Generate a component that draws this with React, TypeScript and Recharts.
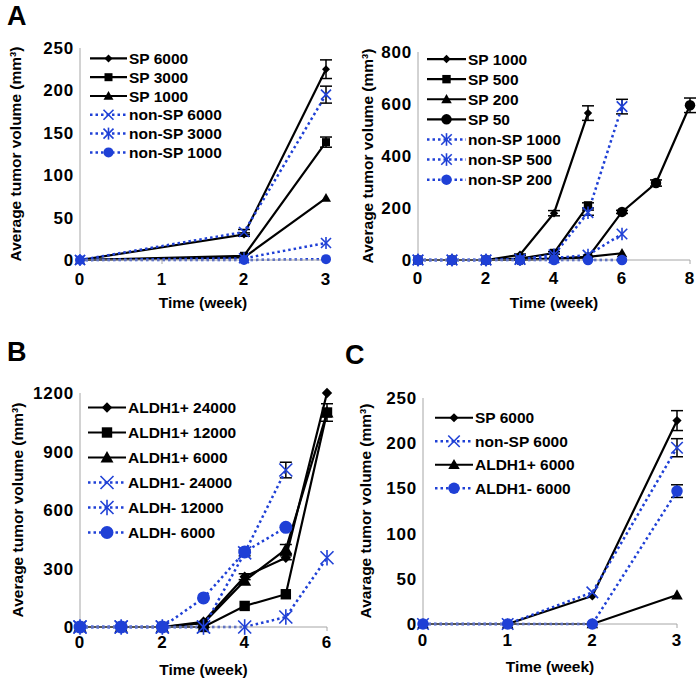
import React from 'react';
import { LineChart, Line, XAxis, YAxis, ErrorBar, Legend, Label } from 'recharts';

const BLACK = '#000000';
const BLUE = '#1f40d6';
const AXIS = '#a6a6a6';
const FONT = '"Liberation Sans", Arial, sans-serif';

// ---- Panel A, left (weeks 0, 2, 3)
const aLeftWeeks = [0, 2, 3];
const aLeftSp6000 = [0, 30, 225];
const aLeftSp6000Err = [null, 2, 11];
const aLeftSp3000 = [0, 5, 139];
const aLeftSp3000Err = [null, null, 6];
const aLeftSp1000 = [0, 3, 73];
const aLeftNonSp6000 = [0, 33, 195];
const aLeftNonSp6000Err = [null, 3, 10];
const aLeftNonSp3000 = [0, 2, 20];
const aLeftNonSp1000 = [0, 0, 1];

// ---- Panel A, right (weeks 0..8)
const aRightWeeks = [0, 1, 2, 3, 4, 5, 6, 7, 8];
const aRightSp1000 = [0, 0, 0, 20, 180, 565];
const aRightSp1000Err = [null, null, null, 3, 10, 28];
const aRightSp500 = [0, 0, 0, 5, 27, 210];
const aRightSp500Err = [null, null, null, null, 5, 10];
const aRightSp200 = [0, 0, 0, 2, 5, 12, 26];
const aRightSp50 = [0, 0, 0, 0, 5, 10, 185, 296, 595];
const aRightSp50Err = [null, null, null, null, null, null, 6, 12, 28];
const aRightNonSp1000 = [0, 0, 0, 3, 20, 182, 590];
const aRightNonSp1000Err = [null, null, null, null, null, 10, 28];
const aRightNonSp500 = [0, 0, 0, 2, 8, 19, 100];
const aRightNonSp200 = [0, 0, 0, 0, 0, 0, 0];

// ---- Panel B (weeks 0..6)
const bWeeks = [0, 1, 2, 3, 4, 5, 6];
const bAldhP24000 = [0, 0, 0, 27, 258, 355, 1200];
const bAldhP24000Err = [null, null, null, null, 15, 10, null];
const bAldhP12000 = [0, 0, 0, 0, 108, 168, 1100];
const bAldhP12000Err = [null, null, null, null, null, null, 45];
const bAldhP6000 = [0, 0, 0, 20, 237, 398, 1100];
const bAldhP6000Err = [null, null, null, null, null, 25, null];
const bAldhN24000 = [0, 0, 0, 0, 380, 805];
const bAldhN24000Err = [null, null, null, null, 15, 40];
const bAldhN12000 = [0, 0, 0, 0, 0, 51, 355];
const bAldhN6000 = [0, 0, 0, 149, 385, 511];

// ---- Panel C (weeks 0..3)
const cWeeks = [0, 1, 2, 3];
const cSp6000 = [0, 0, 31, 225];
const cSp6000Err = [null, null, null, 11];
const cNonSp6000 = [0, 0, 35, 195];
const cNonSp6000Err = [null, null, null, 10];
const cAldhP6000 = [0, 0, 0, 32];
const cAldhN6000 = [0, 0, 0, 147];
const cAldhN6000Err = [null, null, null, 7];

type Shape = 'diamond' | 'square' | 'triangle' | 'circle' | 'x' | 'star';

interface Series {
  key: string;
  name: string;
  values: number[];
  err?: (number | null)[];
  color: string;
  dotted: boolean;
  shape: Shape;
}

const black = (key: string, name: string, values: number[], shape: Shape, err?: (number | null)[]): Series =>
  ({ key, name, values, err, shape, color: BLACK, dotted: false });
const blue = (key: string, name: string, values: number[], shape: Shape, err?: (number | null)[]): Series =>
  ({ key, name, values, err, shape, color: BLUE, dotted: true });

function Marker({ shape, cx, cy, color, scale }: { shape: Shape; cx: number; cy: number; color: string; scale: number }) {
  switch (shape) {
    case 'diamond': {
      const s = 4 * scale;
      return <polygon points={`${cx},${cy - s} ${cx + s},${cy} ${cx},${cy + s} ${cx - s},${cy}`} fill={color} />;
    }
    case 'square': {
      const s = 4 * scale;
      return <rect x={cx - s} y={cy - s} width={2 * s} height={2 * s} fill={color} />;
    }
    case 'triangle': {
      const s = 5 * scale;
      return <polygon points={`${cx},${cy - s} ${cx + s},${cy + s * 0.75} ${cx - s},${cy + s * 0.75}`} fill={color} />;
    }
    case 'circle':
      return <circle cx={cx} cy={cy} r={5 * scale} fill={color} />;
    case 'x': {
      const s = 5 * scale;
      return (
        <g stroke={color} strokeWidth={1.6}>
          <line x1={cx - s} y1={cy - s} x2={cx + s} y2={cy + s} />
          <line x1={cx - s} y1={cy + s} x2={cx + s} y2={cy - s} />
        </g>
      );
    }
    case 'star': {
      const s = 5 * scale;
      return (
        <g stroke={color} strokeWidth={1.6}>
          <line x1={cx - s} y1={cy - s} x2={cx + s} y2={cy + s} />
          <line x1={cx - s} y1={cy + s} x2={cx + s} y2={cy - s} />
          <line x1={cx} y1={cy - s * 1.2} x2={cx} y2={cy + s * 1.2} />
        </g>
      );
    }
  }
  return null;
}

interface PanelProps {
  left: number;
  top: number;
  width: number;
  height: number;
  weeks: number[];
  xTicks: number[];
  yTicks: number[];
  series: Series[];
  plotLeft: number;
  plotRight: number;
  plotTop: number;
  plotBottom: number;
  yLabel: string;
  yLabelX: number;
  xTickMargin: number;
  markerScale: number;
  legend: { x0: number; x1: number; textX: number; y0: number; rowH: number };
}

const tickStyle = { fill: '#000', fontSize: 17, fontWeight: 700, fontFamily: FONT, letterSpacing: 0.8 };

function Panel(p: PanelProps) {
  const data = p.weeks.map((w, i) => {
    const row: Record<string, number | null> = { week: w };
    p.series.forEach((s) => {
      if (i < s.values.length) row[s.key] = s.values[i];
      if (s.err && s.err[i] != null) row[s.key + 'Err'] = s.err[i] as number;
    });
    return row;
  });

  const xAxisH = 48;
  const margin = {
    top: p.plotTop,
    right: p.width - p.plotRight,
    left: 0,
    bottom: p.height - p.plotBottom - xAxisH,
  };
  const yMax = p.yTicks[p.yTicks.length - 1];
  const xMax = p.xTicks[p.xTicks.length - 1];
  const lg = p.legend;

  const renderLegend = () => (
    <svg width={240} height={p.series.length * lg.rowH + 4} style={{ display: 'block', overflow: 'visible' }}>
      {p.series.map((s, i) => {
        const y = lg.rowH / 2 + i * lg.rowH;
        const x0 = 0;
        const x1 = lg.x1 - lg.x0;
        return (
          <g key={s.key}>
            <line
              x1={x0}
              y1={y}
              x2={x1}
              y2={y}
              stroke={s.color}
              strokeWidth={s.dotted ? 2.5 : 2.2}
              strokeDasharray={s.dotted ? '2.5 3' : undefined}
            />
            <Marker shape={s.shape} cx={(x0 + x1) / 2} cy={y} color={s.color} scale={p.markerScale} />
            <text
              x={lg.textX - lg.x0}
              y={y}
              dominantBaseline="central"
              fontSize={15.5}
              fontWeight={700}
              fontFamily={FONT}
              fill="#000"
            >
              {s.name}
            </text>
          </g>
        );
      })}
    </svg>
  );

  return (
    <div style={{ position: 'absolute', left: p.left, top: p.top, width: p.width, height: p.height }}>
      <LineChart width={p.width} height={p.height} data={data} margin={margin}>
        <XAxis
          type="number"
          dataKey="week"
          domain={[0, xMax]}
          ticks={p.xTicks}
          interval={0}
          height={xAxisH}
          stroke={AXIS}
          tickSize={4}
          tickMargin={p.xTickMargin}
          tick={tickStyle}
        >
          <Label
            value="Time (week)"
            position="insideBottom"
            offset={0}
            style={{ fontSize: 15.5, fontWeight: 700, fill: '#000', fontFamily: FONT }}
          />
        </XAxis>
        <YAxis
          type="number"
          domain={[0, yMax]}
          ticks={p.yTicks}
          interval={0}
          width={p.plotLeft}
          stroke={AXIS}
          tickLine={false}
          tickSize={0}
          tickMargin={6}
          tick={tickStyle}
        >
          <Label
            value={p.yLabel}
            angle={-90}
            position="insideLeft"
            offset={p.yLabelX}
            style={{ textAnchor: 'middle', fontSize: 15.5, fontWeight: 700, fill: '#000', fontFamily: FONT }}
          />
        </YAxis>
        <Legend
          layout="vertical"
          align="center"
          verticalAlign="middle"
          content={renderLegend}
          wrapperStyle={{ left: lg.x0, top: lg.y0 - lg.rowH / 2, width: 240, height: p.series.length * lg.rowH }}
        />
        {p.series.map((s) => (
          <Line
            key={s.key}
            dataKey={s.key}
            name={s.name}
            type="linear"
            stroke={s.color}
            strokeWidth={s.dotted ? 2.5 : 2.2}
            strokeDasharray={s.dotted ? '2.5 3' : undefined}
            isAnimationActive={false}
            legendType="none"
            dot={(d: any) => {
              const k = `${s.key}-${d.index}`;
              if (d.cx == null || d.cy == null || d.value == null) return <g key={k} />;
              return (
                <g key={k}>
                  <Marker shape={s.shape} cx={d.cx} cy={d.cy} color={s.color} scale={p.markerScale} />
                </g>
              );
            }}
            activeDot={false}
          >
            {s.err ? (
              <ErrorBar dataKey={s.key + 'Err'} width={6} stroke="#000" strokeWidth={1.5} direction="y" />
            ) : null}
          </Line>
        ))}
      </LineChart>
    </div>
  );
}

const aLeftSeries: Series[] = [
  black('sp6000', 'SP 6000', aLeftSp6000, 'diamond', aLeftSp6000Err),
  black('sp3000', 'SP 3000', aLeftSp3000, 'square', aLeftSp3000Err),
  black('sp1000', 'SP 1000', aLeftSp1000, 'triangle'),
  blue('nsp6000', 'non-SP 6000', aLeftNonSp6000, 'x', aLeftNonSp6000Err),
  blue('nsp3000', 'non-SP 3000', aLeftNonSp3000, 'star'),
  blue('nsp1000', 'non-SP 1000', aLeftNonSp1000, 'circle'),
];

const aRightSeries: Series[] = [
  black('sp1000', 'SP 1000', aRightSp1000, 'diamond', aRightSp1000Err),
  black('sp500', 'SP 500', aRightSp500, 'square', aRightSp500Err),
  black('sp200', 'SP 200', aRightSp200, 'triangle'),
  black('sp50', 'SP 50', aRightSp50, 'circle', aRightSp50Err),
  blue('nsp1000', 'non-SP 1000', aRightNonSp1000, 'star', aRightNonSp1000Err),
  blue('nsp500', 'non-SP 500', aRightNonSp500, 'star'),
  blue('nsp200', 'non-SP 200', aRightNonSp200, 'circle'),
];

const bSeries: Series[] = [
  black('p24000', 'ALDH1+ 24000', bAldhP24000, 'diamond', bAldhP24000Err),
  black('p12000', 'ALDH1+ 12000', bAldhP12000, 'square', bAldhP12000Err),
  black('p6000', 'ALDH1+ 6000', bAldhP6000, 'triangle', bAldhP6000Err),
  blue('n24000', 'ALDH1- 24000', bAldhN24000, 'x', bAldhN24000Err),
  blue('n12000', 'ALDH- 12000', bAldhN12000, 'star'),
  blue('n6000', 'ALDH- 6000', bAldhN6000, 'circle'),
];

const cSeries: Series[] = [
  black('sp6000', 'SP 6000', cSp6000, 'diamond', cSp6000Err),
  blue('nsp6000', 'non-SP 6000', cNonSp6000, 'x', cNonSp6000Err),
  black('ap6000', 'ALDH1+ 6000', cAldhP6000, 'triangle'),
  blue('an6000', 'ALDH1- 6000', cAldhN6000, 'circle', cAldhN6000Err),
];

const letterStyle: React.CSSProperties = {
  position: 'absolute',
  fontFamily: FONT,
  fontWeight: 700,
  fontSize: 27,
  lineHeight: '27px',
  color: '#000',
};

export default function App() {
  return (
    <div
      style={{
        position: 'absolute',
        left: 0,
        top: 0,
        width: 699,
        height: 683,
        background: '#fff',
        fontFamily: FONT,
        overflow: 'hidden',
      }}
    >
      <Panel
        left={0}
        top={0}
        width={350}
        height={320}
        weeks={aLeftWeeks}
        xTicks={[0, 1, 2, 3]}
        yTicks={[0, 50, 100, 150, 200, 250]}
        series={aLeftSeries}
        plotLeft={80}
        plotRight={326}
        plotTop={48}
        plotBottom={260}
        yLabel="Average tumor volume (mm³)"
        yLabelX={15}
        xTickMargin={9}
        markerScale={1}
        legend={{ x0: 90, x1: 127, textX: 129, y0: 58, rowH: 18.8 }}
      />
      <Panel
        left={350}
        top={0}
        width={349}
        height={320}
        weeks={aRightWeeks}
        xTicks={[0, 2, 4, 6, 8]}
        yTicks={[0, 200, 400, 600, 800]}
        series={aRightSeries}
        plotLeft={68}
        plotRight={340}
        plotTop={52}
        plotBottom={260}
        yLabel="Average tumor volume (mm³)"
        yLabelX={17}
        xTickMargin={8}
        markerScale={1.05}
        legend={{ x0: 77, x1: 116, textX: 118, y0: 59, rowH: 20.1 }}
      />
      <Panel
        left={0}
        top={330}
        width={350}
        height={353}
        weeks={bWeeks}
        xTicks={[0, 2, 4, 6]}
        yTicks={[0, 300, 600, 900, 1200]}
        series={bSeries}
        plotLeft={80}
        plotRight={327}
        plotTop={63}
        plotBottom={297}
        yLabel="Average tumor volume (mm³)"
        yLabelX={17}
        xTickMargin={5}
        markerScale={1.3}
        legend={{ x0: 88, x1: 126, textX: 128, y0: 77, rowH: 25 }}
      />
      <Panel
        left={350}
        top={330}
        width={349}
        height={353}
        weeks={cWeeks}
        xTicks={[0, 1, 2, 3]}
        yTicks={[0, 50, 100, 150, 200, 250]}
        series={cSeries}
        plotLeft={73}
        plotRight={327}
        plotTop={68}
        plotBottom={294}
        yLabel="Avarage tumor volume (mm³)"
        yLabelX={15}
        xTickMargin={6}
        markerScale={1.15}
        legend={{ x0: 85, x1: 123, textX: 125, y0: 88, rowH: 23.5 }}
      />
      <div style={{ ...letterStyle, left: 7, top: 3 }}>A</div>
      <div style={{ ...letterStyle, left: 7, top: 339 }}>B</div>
      <div style={{ ...letterStyle, left: 345, top: 342 }}>C</div>
    </div>
  );
}
